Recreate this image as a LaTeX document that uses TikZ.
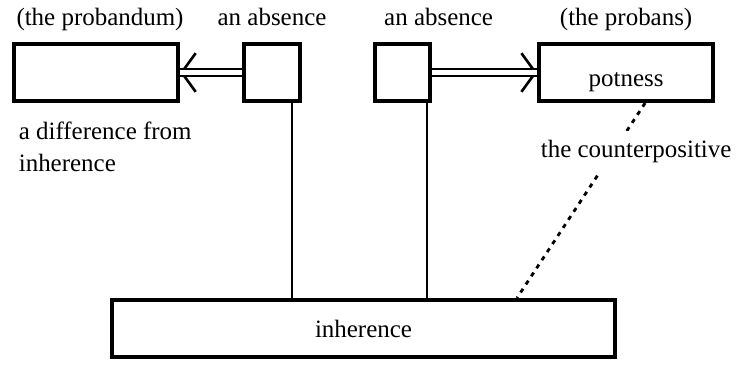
\documentclass[tikz,border=0pt]{standalone}
\usepackage{fontspec}
\setmainfont{Liberation Serif}
\usetikzlibrary{positioning, arrows.meta, calc}

\newcommand{\diagfont}{\fontsize{14.2}{18}\selectfont}

\begin{document}
\begin{tikzpicture}[
            box/.style={draw=black, line width=2.3pt, rectangle, minimum height=1.14cm, inner sep=0pt, font=\diagfont},
            toplabel/.style={font=\diagfont, text depth=0.25em, inner sep=2pt},
            note/.style={font=\diagfont, align=left, inner sep=2pt},
            link/.style={line width=1.1pt},
            implies/.style={line width=0.4pt, -{Straight Barb[length=8pt, width=22pt, line width=1.5pt]},
                postaction={draw, -, double, line width=1pt, double distance=3pt}},
            contra/.style={line width=1.6pt, dash pattern=on 2.5pt off 3pt}
        ]

        \useasboundingbox (0,0) rectangle (14.88,-7.38);

        % boxes
        \node[box, minimum width=3.28cm, label={[toplabel, label distance=0.17cm, xshift=0.08cm]above:(the probandum)}] (probandum) at (1.92,-1.45) {};
        \node[box, minimum width=1.12cm, label={[toplabel, label distance=0.17cm]above:an absence}, right=1.24cm of probandum] (absL) {};
        \node[box, minimum width=1.1cm, label={[toplabel, label distance=0.17cm, xshift=0.72cm]above:an absence}, right=1.42cm of absL] (absR) {};
        \node[box, minimum width=3.48cm, label={[toplabel, label distance=0.17cm]above:(the probans)}, label={[font=\diagfont, yshift=-0.2cm]center:potness}, right=2.1cm of absR] (probans) {};
        \node[box, minimum width=10.06cm] (inherence) at (7.27,-6.57) {inherence};

        % texts
        \node[note, below right=0.3cm and 0.06cm of probandum.south west] (difference) {a difference from\\inherence};

        % connections
        \draw[implies] (absL.west) -- (probandum.east);
        \draw[implies] (absR.east) -- (probans.west);
        \draw[link] ([xshift=0.4cm]absL.south) -- ([xshift=0.4cm]absL.south |- inherence.north);
        \draw[link] ([xshift=0.49cm]absR.south) -- ([xshift=0.49cm]absR.south |- inherence.north);

        \coordinate (cp top) at ([xshift=0.38cm]probans.south);
        \coordinate (cp bottom) at ([xshift=3.07cm]inherence.north);
        \draw[contra] (cp top) -- (cp bottom);
        \node[note, fill=white, inner ysep=0.18cm, below=0.55cm of probans.south, xshift=0.2cm] (counter) {the counterpositive};

    \end{tikzpicture}
\end{document}
